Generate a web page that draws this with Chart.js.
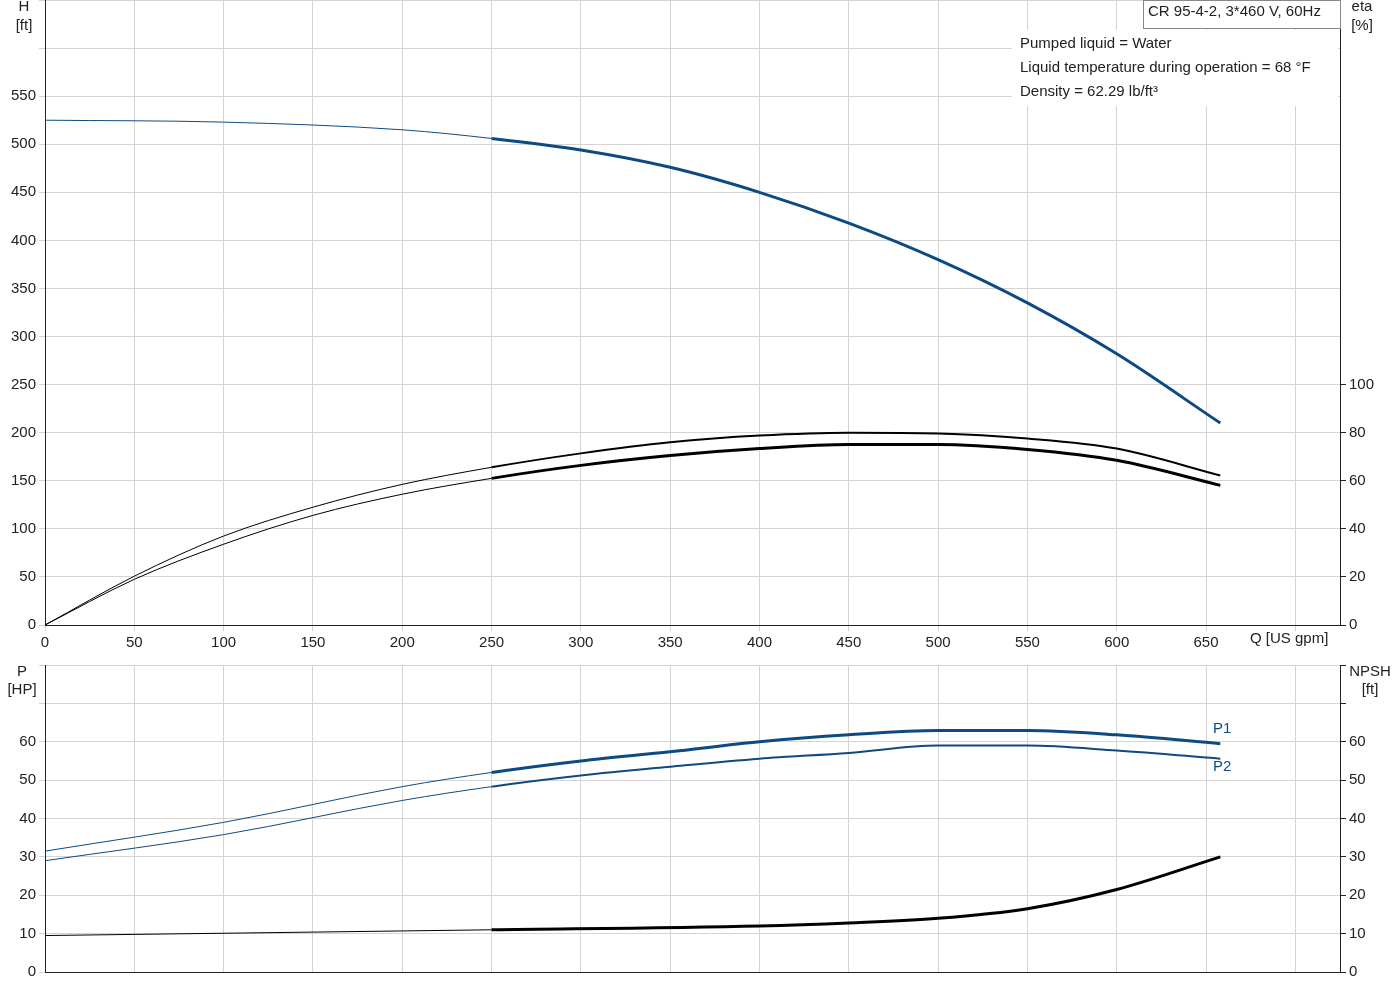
<!DOCTYPE html>
<html>
<head>
<meta charset="utf-8">
<script src="https://cdn.jsdelivr.net/npm/chart.js@4/dist/chart.umd.min.js"></script>
<style>
  body { margin: 0; background: #fff; overflow: hidden; }
  #top { position: absolute; left: 0; top: -12px; width: 1400px; height: 672px; }
  #bot { position: absolute; left: 0; top: 640px; width: 1400px; height: 360px; }
</style>
</head>
<body>
<div id="top"><canvas id="c1"></canvas></div>
<div id="bot"><canvas id="c2"></canvas></div>
<script>
// flow points [US gpm]
const qHead = [0, 100, 200, 250, 300, 350, 400, 450, 500, 550, 600, 658];
const head = [525, 523, 515, 506, 494, 476, 450, 418, 380, 335, 282, 210];

const qEta = [0, 50, 100, 150, 200, 250, 300, 350, 400, 450, 500, 550, 600, 658];
const etaUpper = [0, 20.3, 37, 49, 58.5, 65.6, 71.4, 76, 78.8, 80, 79.7, 77.6, 73.4, 62.2];
const etaLower = [0, 19, 33.6, 45.6, 54.4, 61, 66.4, 70.5, 73.4, 75.1, 75.1, 73, 68.5, 58.1];

const qPow = [0, 100, 200, 250, 300, 350, 400, 450, 500, 550, 600, 658];
const p1 = [31.5, 39, 48.3, 52, 55, 57.4, 60, 61.8, 62.9, 62.9, 61.8, 59.5];
const p2 = [29, 35.8, 44.7, 48.3, 51.2, 53.5, 55.6, 57.1, 59, 59, 57.7, 55.6];

const qNpsh = [0, 250, 400, 450, 500, 550, 600, 658];
const npsh = [9.5, 11, 12, 12.8, 14, 16.5, 21.5, 30];

const infoLines = ['Pumped liquid = Water', 'Liquid temperature during operation = 68 °F', 'Density = 62.29 lb/ft³'];
const title = 'CR 95-4-2, 3*460 V, 60Hz';

const FONT = { family: 'Liberation Sans, Arial, sans-serif', size: 15 };
const GRID = '#d4d4d4';
const BLUE = '#0e4a82';

const pts = (xs, ys) => xs.map((x, i) => ({ x: x, y: ys[i] }));
const line = (data, color, axis, w) => ({
  data: data, borderColor: color, pointRadius: 0, cubicInterpolationMode: 'monotone', fill: false,
  yAxisID: axis, segment: { borderWidth: ctx => ctx.p0.parsed.x >= 250 ? w : 1 }
});
const fixW = w => function (s) { s.width = w; };

function texts(items) {
  return {
    id: 'texts',
    afterDraw(chart) {
      const c = chart.ctx;
      c.save();
      c.font = '15px Liberation Sans, Arial, sans-serif';
      c.textBaseline = 'middle';
      items.forEach(t => {
        c.fillStyle = t.color || '#222';
        c.textAlign = t.align || 'left';
        c.fillText(t.text, t.x, t.y);
      });
      c.restore();
    }
  };
}

const xScale = (showLabels) => ({
  type: 'linear', min: 0, max: 725,
  ticks: { stepSize: 50, display: showLabels, font: FONT, color: '#222', maxRotation: 0,
    callback: v => v <= 650 ? v : '' },
  afterBuildTicks: s => { s.ticks = s.ticks.filter(t => t.value % 50 === 0); },
  grid: { color: GRID, tickLength: 6 },
  border: { color: '#222' }
});

new Chart(document.getElementById('c1'), {
  type: 'line',
  data: { datasets: [
    line(pts(qHead, head), BLUE, 'y', 3),
    line(pts(qEta, etaUpper), '#000', 'y2', 2),
    line(pts(qEta, etaLower), '#000', 'y2', 3)
  ] },
  options: {
    animation: false, responsive: true, maintainAspectRatio: false,
    layout: { padding: { top: 1, right: 0, left: 0, bottom: 0 } },
    plugins: { legend: { display: false }, tooltip: { enabled: false } },
    scales: {
      x: Object.assign(xScale(true), { afterFit: s => { s.height = 35; } }),
      y: { min: 0, max: 650,
        ticks: { stepSize: 50, font: FONT, color: '#222', callback: v => v <= 550 ? v : '' },
        grid: { color: GRID, tickLength: 6 }, border: { color: '#222' }, afterFit: fixW(45) },
      y2: { position: 'right', min: 0, max: 260,
        ticks: { stepSize: 20, font: FONT, color: '#222' },
        afterBuildTicks: s => { s.ticks = s.ticks.filter(t => t.value <= 100); },
        grid: { drawOnChartArea: false, tickLength: 6, color: '#222' }, border: { color: '#222' },
        afterFit: fixW(60) }
    }
  },
  plugins: [{
    id: 'box',
    beforeDatasetsDraw(chart) {
      const c = chart.ctx;
      const t = chart.chartArea.top;
      c.save();
      c.fillStyle = '#fff';
      c.fillRect(1012, t + 30, 326, 76);
      c.fillRect(1143, t, 197, 28);
      c.strokeStyle = '#888';
      c.strokeRect(1143.5, t + 0.5, 197, 28);
      c.restore();
    }
  }, texts([
    { text: 'H', x: 24, y: 19, align: 'center' },
    { text: '[ft]', x: 24, y: 38, align: 'center' },
    { text: 'eta', x: 1362, y: 19, align: 'center' },
    { text: '[%]', x: 1362, y: 38, align: 'center' },
    { text: 'Q [US gpm]', x: 1250, y: 651 },
    { text: title, x: 1148, y: 24 },
    { text: infoLines[0], x: 1020, y: 56 },
    { text: infoLines[1], x: 1020, y: 80 },
    { text: infoLines[2], x: 1020, y: 104 }
  ])]
});

new Chart(document.getElementById('c2'), {
  type: 'line',
  data: { datasets: [
    line(pts(qPow, p1), BLUE, 'y', 3),
    line(pts(qPow, p2), BLUE, 'y', 2),
    line(pts(qNpsh, npsh), '#000', 'y2', 3)
  ] },
  options: {
    animation: false, responsive: true, maintainAspectRatio: false,
    layout: { padding: { top: 25, right: 0, left: 0, bottom: 28 } },
    plugins: { legend: { display: false }, tooltip: { enabled: false } },
    scales: {
      x: Object.assign(xScale(false), { grid: { color: GRID, tickLength: 0 } }),
      y: { min: 0, max: 80,
        ticks: { stepSize: 10, font: FONT, color: '#222', callback: v => v <= 60 ? v : '' },
        grid: { color: GRID, tickLength: 6 }, border: { color: '#222' }, afterFit: fixW(45) },
      y2: { position: 'right', min: 0, max: 80,
        ticks: { stepSize: 10, font: FONT, color: '#222', callback: v => v <= 60 ? v : '' },
        grid: { drawOnChartArea: false, tickLength: 6, color: '#222' }, border: { color: '#222' },
        afterFit: fixW(60) }
    }
  },
  plugins: [texts([
    { text: 'P', x: 22, y: 32, align: 'center' },
    { text: '[HP]', x: 22, y: 50, align: 'center' },
    { text: 'NPSH', x: 1370, y: 32, align: 'center' },
    { text: '[ft]', x: 1370, y: 50, align: 'center' },
    { text: 'P1', x: 1213, y: 89, color: BLUE },
    { text: 'P2', x: 1213, y: 127, color: BLUE }
  ])]
});
</script>
</body>
</html>
